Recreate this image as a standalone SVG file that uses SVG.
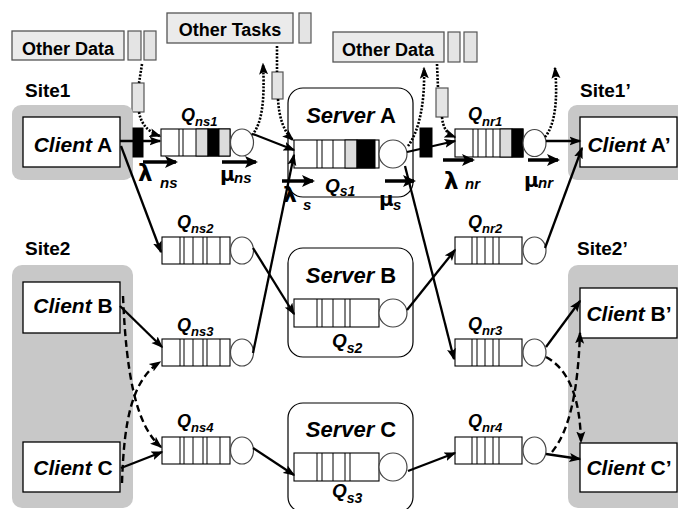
<svg xmlns="http://www.w3.org/2000/svg" xmlns:xlink="http://www.w3.org/1999/xlink" width="678" height="509" viewBox="0 0 678 509">
  <style>
    .site { fill: #c8c8c8; }
    .box { fill: #fff; stroke: #000; stroke-width: 1.3; }
    .srv { fill: #fff; stroke: #000; stroke-width: 1.2; }
    .q { fill: #fff; stroke: #000; stroke-width: 1.1; }
    .dv { stroke: #000; stroke-width: 1; }
    .cir { fill: #fff; stroke: #444; stroke-width: 1.2; }
    .gcell { fill: #dcdcdc; stroke: #000; stroke-width: 1; }
    .bcell { fill: #000; stroke: #000; stroke-width: 1; }
    .tag { fill: #ebebeb; stroke: #555; stroke-width: 1.3; }
    .pkt { fill: #e4e4e4; stroke: #555; stroke-width: 1.2; }
    .t { font-family: "Liberation Sans", Arial, sans-serif; font-weight: bold; fill: #000; }
    .g { font-family: "DejaVu Sans", "Liberation Sans", sans-serif; font-weight: bold; fill: #000; }
    .i { font-style: italic; }
    .ln { stroke: #000; stroke-width: 2.3; fill: none; marker-end: url(#ah); }
    .dot { stroke: #000; stroke-width: 2.6; stroke-dasharray: 2 1.5; fill: none; }
    .dash { stroke: #000; stroke-width: 2.4; stroke-dasharray: 7 4; fill: none; marker-end: url(#ah); }
    .rate { stroke: #000; stroke-width: 3.5; fill: none; marker-end: url(#ahr); }
  </style>
  <defs>
    <marker id="ah" markerUnits="userSpaceOnUse" markerWidth="12" markerHeight="10" refX="10.5" refY="5" orient="auto">
      <path d="M0,0.5 L12,5 L0,9.5 L2.5,5 z" fill="#000"/>
    </marker>
    <marker id="ahr" markerUnits="userSpaceOnUse" markerWidth="13" markerHeight="12" refX="11" refY="6" orient="auto">
      <path d="M0,0 L13,6 L0,12 L3,6 z" fill="#000"/>
    </marker>
    <!-- empty queue templates -->
    <g id="qns">
      <rect class="q" x="0" y="0" width="68" height="27"/>
      <path class="dv" d="M18,0V27M22,0V27M31,0V27M41,0V27M45,0V27M58,0V27"/>
      <ellipse class="cir" cx="80" cy="13.5" rx="11.5" ry="13.5"/>
    </g>
    <g id="qnr">
      <rect class="q" x="0" y="0" width="67" height="27"/>
      <path class="dv" d="M17,0V27M22,0V27M30,0V27M38,0V27M44,0V27"/>
      <ellipse class="cir" cx="79.5" cy="13.5" rx="11.5" ry="13.5"/>
    </g>
    <g id="qs">
      <rect class="q" x="0" y="0" width="85" height="28"/>
      <path class="dv" d="M23,0V28M28,0V28M39,0V28M51,0V28M56,0V28"/>
      <circle class="cir" cx="99" cy="14" r="14"/>
    </g>
  </defs>

  <rect width="678" height="509" fill="#fff"/>

  <!-- pending data / task blocks -->
  <g id="other-data-1">
    <rect class="tag" x="12" y="31" width="112" height="29"/>
    <text class="t" x="68" y="55" font-size="18" text-anchor="middle">Other Data</text>
    <rect class="pkt" x="128" y="31" width="13" height="29"/>
    <rect class="pkt" x="144" y="31" width="12" height="29"/>
    <rect class="pkt" x="132" y="83" width="12" height="29"/>
  </g>
  <g id="other-tasks">
    <rect class="tag" x="167" y="13" width="126" height="30"/>
    <text class="t" x="230" y="36" font-size="18" text-anchor="middle">Other Tasks</text>
    <rect class="pkt" x="299" y="13" width="12" height="30"/>
    <rect class="pkt" x="272" y="72" width="11" height="27"/>
  </g>
  <g id="other-data-2">
    <rect class="tag" x="333" y="32" width="111" height="30"/>
    <text class="t" x="388" y="56" font-size="18" text-anchor="middle">Other Data</text>
    <rect class="pkt" x="448" y="32" width="12" height="30"/>
    <rect class="pkt" x="464" y="32" width="13" height="30"/>
    <rect class="pkt" x="436" y="88" width="12" height="29"/>
  </g>

  <!-- sites -->
  <g id="site1">
    <text class="t" x="25" y="97" font-size="19">Site1</text>
    <rect class="site" x="12" y="105" width="121" height="75" rx="9"/>
    <rect class="box" x="23" y="117" width="97" height="50"/>
    <text class="t" x="73" y="152" font-size="21" text-anchor="middle"><tspan class="i">Client</tspan> A</text>
  </g>
  <g id="site2">
    <text class="t" x="25" y="255" font-size="19">Site2</text>
    <rect class="site" x="12" y="265" width="121" height="243" rx="10"/>
    <rect class="box" x="23" y="282" width="97" height="51"/>
    <text class="t" x="73" y="313" font-size="21" text-anchor="middle"><tspan class="i">Client</tspan> B</text>
    <rect class="box" x="23" y="442" width="97" height="50"/>
    <text class="t" x="73" y="475" font-size="21" text-anchor="middle"><tspan class="i">Client</tspan> C</text>
  </g>
  <g id="site1p">
    <text class="t" x="580" y="97" font-size="19">Site1’</text>
    <rect class="site" x="568" y="105" width="120" height="75" rx="9"/>
    <rect class="box" x="580" y="117" width="97" height="50"/>
    <text class="t" x="629" y="152" font-size="21" text-anchor="middle"><tspan class="i">Client</tspan> A’</text>
  </g>
  <g id="site2p">
    <text class="t" x="577" y="255" font-size="19">Site2’</text>
    <rect class="site" x="568" y="265" width="120" height="243" rx="10"/>
    <rect class="box" x="580" y="288" width="97" height="50"/>
    <text class="t" x="629" y="321" font-size="21" text-anchor="middle"><tspan class="i">Client</tspan> B’</text>
    <rect class="box" x="580" y="443" width="97" height="49"/>
    <text class="t" x="629" y="475" font-size="21" text-anchor="middle"><tspan class="i">Client</tspan> C’</text>
  </g>

  <!-- send-side network queues -->
  <g id="qns1">
    <rect class="bcell" x="133" y="128" width="10" height="29"/>
    <rect class="q" x="161" y="129" width="69" height="27"/>
    <path class="dv" d="M179,129V156M183,129V156"/>
    <rect class="gcell" x="196" y="129" width="12" height="27"/>
    <rect class="bcell" x="208" y="129" width="11" height="27"/>
    <rect class="gcell" x="219" y="129" width="11" height="27"/>
    <ellipse class="cir" cx="242" cy="142.5" rx="11.5" ry="13.5"/>
    <text class="t i" x="181" y="121" font-size="18">Q<tspan dy="5" font-size="13">ns1</tspan></text>
  </g>
  <g id="qns2">
    <use xlink:href="#qns" x="162" y="237"/>
    <text class="t i" x="177" y="228" font-size="18">Q<tspan dy="5" font-size="13">ns2</tspan></text>
  </g>
  <g id="qns3">
    <use xlink:href="#qns" x="162" y="339"/>
    <text class="t i" x="177" y="331" font-size="18">Q<tspan dy="5" font-size="13">ns3</tspan></text>
  </g>
  <g id="qns4">
    <use xlink:href="#qns" x="162" y="437"/>
    <text class="t i" x="177" y="427" font-size="18">Q<tspan dy="5" font-size="13">ns4</tspan></text>
  </g>

  <!-- servers -->
  <g id="serverA">
    <rect class="srv" x="288" y="88" width="125" height="109" rx="15"/>
    <text class="t" x="351" y="123" font-size="22" text-anchor="middle"><tspan class="i">Server</tspan> A</text>
    <rect class="q" x="294" y="140" width="85" height="28"/>
    <path class="dv" d="M317,140V168M322,140V168M333,140V168"/>
    <rect class="gcell" x="345" y="140" width="12" height="28"/>
    <rect class="bcell" x="357" y="140" width="18" height="28"/>
    <circle class="cir" cx="393" cy="154" r="14"/>
    <text class="t i" x="325" y="192" font-size="19">Q<tspan dy="4" font-size="14">s1</tspan></text>
  </g>
  <g id="serverB">
    <rect class="srv" x="288" y="248" width="125" height="109" rx="15"/>
    <text class="t" x="351" y="283" font-size="22" text-anchor="middle"><tspan class="i">Server</tspan> B</text>
    <use xlink:href="#qs" x="294" y="299"/>
    <text class="t i" x="332" y="347" font-size="19">Q<tspan dy="6" font-size="14">s2</tspan></text>
  </g>
  <g id="serverC">
    <rect class="srv" x="288" y="403" width="125" height="109" rx="15"/>
    <text class="t" x="351" y="437" font-size="22" text-anchor="middle"><tspan class="i">Server</tspan> C</text>
    <use xlink:href="#qs" x="294" y="453"/>
    <text class="t i" x="332" y="497" font-size="19">Q<tspan dy="6" font-size="14">s3</tspan></text>
  </g>

  <!-- receive-side network queues -->
  <g id="qnr1">
    <rect class="bcell" x="420" y="128" width="12" height="29"/>
    <rect class="q" x="455" y="129" width="68" height="28"/>
    <path class="dv" d="M473,129V157M478,129V157M486,129V157M493,129V157"/>
    <rect class="gcell" x="500" y="129" width="12" height="28"/>
    <rect class="bcell" x="512" y="129" width="11" height="28"/>
    <ellipse class="cir" cx="534.5" cy="143" rx="11.5" ry="13.5"/>
    <text class="t i" x="468" y="120" font-size="18">Q<tspan dy="6" font-size="13">nr1</tspan></text>
  </g>
  <g id="qnr2">
    <use xlink:href="#qnr" x="455" y="237"/>
    <text class="t i" x="468" y="228" font-size="18">Q<tspan dy="5" font-size="13">nr2</tspan></text>
  </g>
  <g id="qnr3">
    <use xlink:href="#qnr" x="455" y="339"/>
    <text class="t i" x="468" y="330" font-size="18">Q<tspan dy="5" font-size="13">nr3</tspan></text>
  </g>
  <g id="qnr4">
    <use xlink:href="#qnr" x="455" y="437"/>
    <text class="t i" x="468" y="427" font-size="18">Q<tspan dy="5" font-size="13">nr4</tspan></text>
  </g>

  <!-- rate labels -->
  <g id="rates">
    <path class="rate" d="M143,162H176"/>
    <path class="rate" d="M222,162H256"/>
    <path class="rate" d="M282,181H313"/>
    <path class="rate" d="M385,181H414"/>
    <path class="rate" d="M443,160H473"/>
    <path class="rate" d="M528,160H558"/>
    <text class="g" x="138" y="181" font-size="23">λ</text>
    <text class="t i" x="160" y="188" font-size="15">ns</text>
    <text class="g" x="220" y="181" font-size="20">μ</text>
    <text class="t i" x="234" y="183" font-size="15">ns</text>
    <text class="g" x="283" y="202" font-size="22">λ</text>
    <text class="t i" x="303" y="210" font-size="15">s</text>
    <text class="g" x="379" y="206" font-size="20">μ</text>
    <text class="t i" x="393" y="210" font-size="15">s</text>
    <text class="g" x="444" y="189" font-size="23">λ</text>
    <text class="t i" x="465" y="189" font-size="15">nr</text>
    <text class="g" x="524" y="187" font-size="20">μ</text>
    <text class="t i" x="538" y="188" font-size="15">nr</text>
  </g>

  <!-- connectors -->
  <g id="connectors">
    <!-- solid flows -->
    <path class="ln" d="M120,141L160,141"/>
    <path class="ln" d="M121,146L161,252"/>
    <path class="ln" d="M253,134L294,150"/>
    <path class="ln" d="M253,248L294,314"/>
    <path class="ln" d="M253,353L294,155"/>
    <path class="ln" d="M253,448L294,475"/>
    <path class="ln" d="M407,152L455,141"/>
    <path class="ln" d="M405,166L454,359"/>
    <path class="ln" d="M407,310L455,250"/>
    <path class="ln" d="M408,471L455,453"/>
    <path class="ln" d="M546,141L580,141"/>
    <path class="ln" d="M545,248L582,148"/>
    <path class="ln" d="M546,347L580,301"/>
    <path class="ln" d="M546,454L580,459"/>
    <path class="ln" d="M120,306L162,347"/>
    <path class="ln" d="M121,468L162,452"/>
    <!-- dotted: background traffic joining and leaving -->
    <path class="dot" d="M142,64L139,83"/>
    <path class="dot" d="M139,112C141,124 148,132 160,136" marker-end="url(#ah)"/>
    <path class="dot" d="M277,46L277,72"/>
    <path class="dot" d="M278,99C279,118 284,132 293,140" marker-end="url(#ah)"/>
    <path class="dot" d="M252,135C262,124 265,100 263,64" marker-end="url(#ah)"/>
    <path class="dot" d="M437,64L438,88"/>
    <path class="dot" d="M442,117C443,128 447,134 455,137" marker-end="url(#ah)"/>
    <path class="dot" d="M408,146C420,130 425,100 424,68" marker-end="url(#ah)"/>
    <path class="dot" d="M545,137C555,125 558,100 555,68" marker-end="url(#ah)"/>
    <!-- dashed: alternative routes -->
    <path class="dash" d="M123,296C126,370 135,425 161,447"/>
    <path class="dash" d="M122,483C124,420 132,380 160,362"/>
    <path class="dash" d="M546,357C570,370 580,400 581,442"/>
    <path class="dash" d="M552,452C570,430 578,390 580,333"/>
  </g>
</svg>
